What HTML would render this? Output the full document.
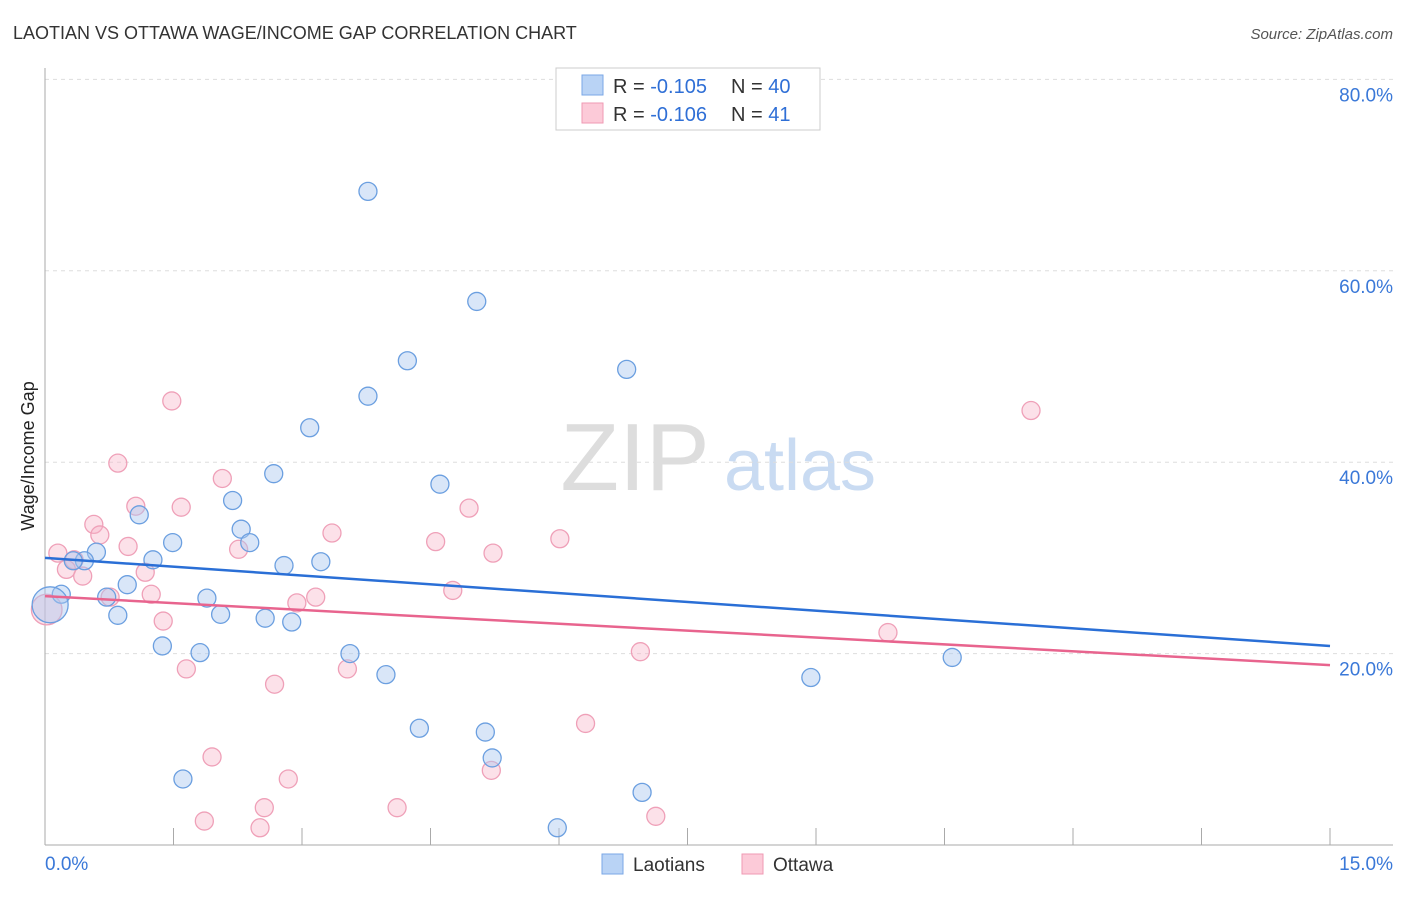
<!DOCTYPE html>
<html><head><meta charset="utf-8">
<style>
body{margin:0;background:#fff;font-family:"Liberation Sans",sans-serif;}
svg text{font-family:"Liberation Sans",sans-serif;}
</style></head>
<body>
<svg id="chart" width="1406" height="892" xmlns="http://www.w3.org/2000/svg">
<text x="13" y="39" font-size="18" fill="#333">LAOTIAN VS OTTAWA WAGE/INCOME GAP CORRELATION CHART</text>
<text x="1393" y="39" font-size="15" fill="#555" text-anchor="end" font-style="italic">Source: ZipAtlas.com</text>
<g>
<text x="635" y="490" font-size="96" fill="#ddd" font-family="Liberation Serif,serif" text-anchor="middle">ZIP</text>
<text x="800" y="490" font-size="72" fill="#c9dbf2" text-anchor="middle">atlas</text>
</g>
<g id="grid"></g>
<g id="axes"></g>
<g id="points"></g>
<g id="trends"></g>
<g>
<rect x="556" y="68" width="264" height="62" fill="#fff" stroke="#ccc"/>
<rect x="582" y="75" width="21" height="20" fill="#b9d3f5" stroke="#7aa7e6"/>
<rect x="582" y="103" width="21" height="20" fill="#fccad8" stroke="#ef9ab3"/>
<text x="613" y="93" font-size="20" fill="#333">R = <tspan fill="#2f6fd6">-0.105</tspan></text>
<text x="731" y="93" font-size="20" fill="#333">N = <tspan fill="#2f6fd6">40</tspan></text>
<text x="613" y="121" font-size="20" fill="#333">R = <tspan fill="#2f6fd6">-0.106</tspan></text>
<text x="731" y="121" font-size="20" fill="#333">N = <tspan fill="#2f6fd6"> 41</tspan></text>
</g>
<g>
<rect x="602" y="854" width="21" height="20" fill="#b9d3f5" stroke="#7aa7e6"/>
<text x="633" y="871" font-size="19" fill="#333">Laotians</text>
<rect x="742" y="854" width="21" height="20" fill="#fccad8" stroke="#ef9ab3"/>
<text x="773" y="871" font-size="19" fill="#333">Ottawa</text>
</g>
<text transform="translate(34,456) rotate(-90)" font-size="18" fill="#222" text-anchor="middle">Wage/Income Gap</text>
</svg>
<script>
const blueX=[3.77,5.04,4.23,6.79,3.77,3.09,2.67,4.61,2.19,1.10,2.29,1.49,2.39,0.60,0.46,1.26,3.22,2.79,0.96,0.19,0.72,1.89,0.85,2.05,2.57,2.88,0.06,1.37,1.81,3.56,10.59,3.98,8.94,4.37,5.14,5.22,1.61,6.97,5.98,0.33];
const blueY=[68.3,56.8,50.6,49.7,46.9,43.6,38.8,37.7,36.0,34.5,33.0,31.6,31.6,30.6,29.7,29.8,29.6,29.2,27.2,26.2,25.9,25.8,24.0,24.1,23.7,23.3,25.1,20.8,20.1,20.0,19.6,17.8,17.5,12.2,11.8,9.1,6.9,5.5,1.8,29.7];
const blueSize=[1,1,1,1,1,1,1,1,1,1,1,1,1,1,1,1,1,1,1,1,1,1,1,1,1,1,2,1,1,1,1,1,1,1,1,1,1,1,1,1];
const pinkX=[11.51,1.48,0.85,2.07,1.06,1.59,4.95,0.57,3.35,0.64,6.01,4.56,0.97,2.26,5.23,0.15,0.34,0.25,1.17,0.44,4.76,1.24,0.76,3.16,2.94,0.02,1.38,9.84,6.95,3.53,1.65,2.68,6.31,1.95,5.21,2.84,2.56,4.11,7.13,1.86,2.51];
const pinkY=[45.4,46.4,39.9,38.3,35.4,35.3,35.2,33.5,32.6,32.4,32.0,31.7,31.2,30.9,30.5,30.5,29.8,28.8,28.5,28.1,26.6,26.2,25.9,25.9,25.3,24.6,23.4,22.2,20.2,18.4,18.4,16.8,12.7,9.2,7.8,6.9,3.9,3.9,3.0,2.5,1.8];
const pinkSize=[1,1,1,1,1,1,1,1,1,1,1,1,1,1,1,1,1,1,1,1,1,1,1,1,1,1.7,1,1,1,1,1,1,1,1,1,1,1,1,1,1,1];
const yTicks=[20,40,60,80];
const yTickLabels=["20.0%","40.0%","60.0%","80.0%"];
const xTicks=[1.5,3,4.5,6,7.5,9,10.5,12,13.5,15];
const blueTrend=[30.0,20.8];
const pinkTrend=[26.0,18.8];
const xMin=0,xMax=15;
const sx=v=>45+(v-xMin)/(xMax-xMin)*1285;
const sy=v=>845-v*9.57;
const NS="http://www.w3.org/2000/svg";
function mk(tag,parent,attrs){const e=document.createElementNS(NS,tag);for(const k in attrs)e.setAttribute(k,attrs[k]);document.getElementById(parent).appendChild(e);return e;}
yTicks.forEach((t,i)=>{
  const l=mk('line','grid',{x1:45,x2:1393,y1:sy(t),y2:sy(t),stroke:'#ddd','stroke-dasharray':'4,4'});
  
  
  const tx=mk('text','grid',{x:1393,y:sy(t)+22,'font-size':19,fill:'#3a78d8','text-anchor':'end'});
  tx.textContent=yTickLabels[i];
  
  
});
const ax=mk('line','axes',{x1:45,x2:45,y1:68,y2:845,stroke:'#aaa'});


const bx=mk('line','axes',{x1:45,x2:1393,y1:845,y2:845,stroke:'#aaa'});


xTicks.forEach(t=>{
  const l=mk('line','axes',{x1:sx(t),x2:sx(t),y1:828,y2:845,stroke:'#aaa'});
  
  
});
const x0=mk('text','axes',{x:45,y:870,'font-size':19,fill:'#3a78d8'});x0.textContent=xMin.toFixed(1)+'%';


const x1=mk('text','axes',{x:1393,y:870,'font-size':19,fill:'#3a78d8','text-anchor':'end'});x1.textContent=xMax.toFixed(1)+'%';


pinkX.forEach((v,i)=>{
  const c=mk('circle','points',{cx:sx(v),cy:sy(pinkY[i]),r:9*pinkSize[i],fill:'rgba(248,180,200,0.4)',stroke:'#efa0b8','stroke-width':1.3});
  
  
});
blueX.forEach((v,i)=>{
  const c=mk('circle','points',{cx:sx(v),cy:sy(blueY[i]),r:9*blueSize[i],fill:'rgba(170,200,240,0.45)',stroke:'#6b9fe0','stroke-width':1.3});
  
  
});
const bt=mk('line','trends',{x1:sx(xMin),x2:sx(xMax),y1:sy(blueTrend[0]),y2:sy(blueTrend[1]),stroke:'#2a6fd6','stroke-width':2.5});


const pt=mk('line','trends',{x1:sx(xMin),x2:sx(xMax),y1:sy(pinkTrend[0]),y2:sy(pinkTrend[1]),stroke:'#e8648e','stroke-width':2.5});


</script>
</body></html>
